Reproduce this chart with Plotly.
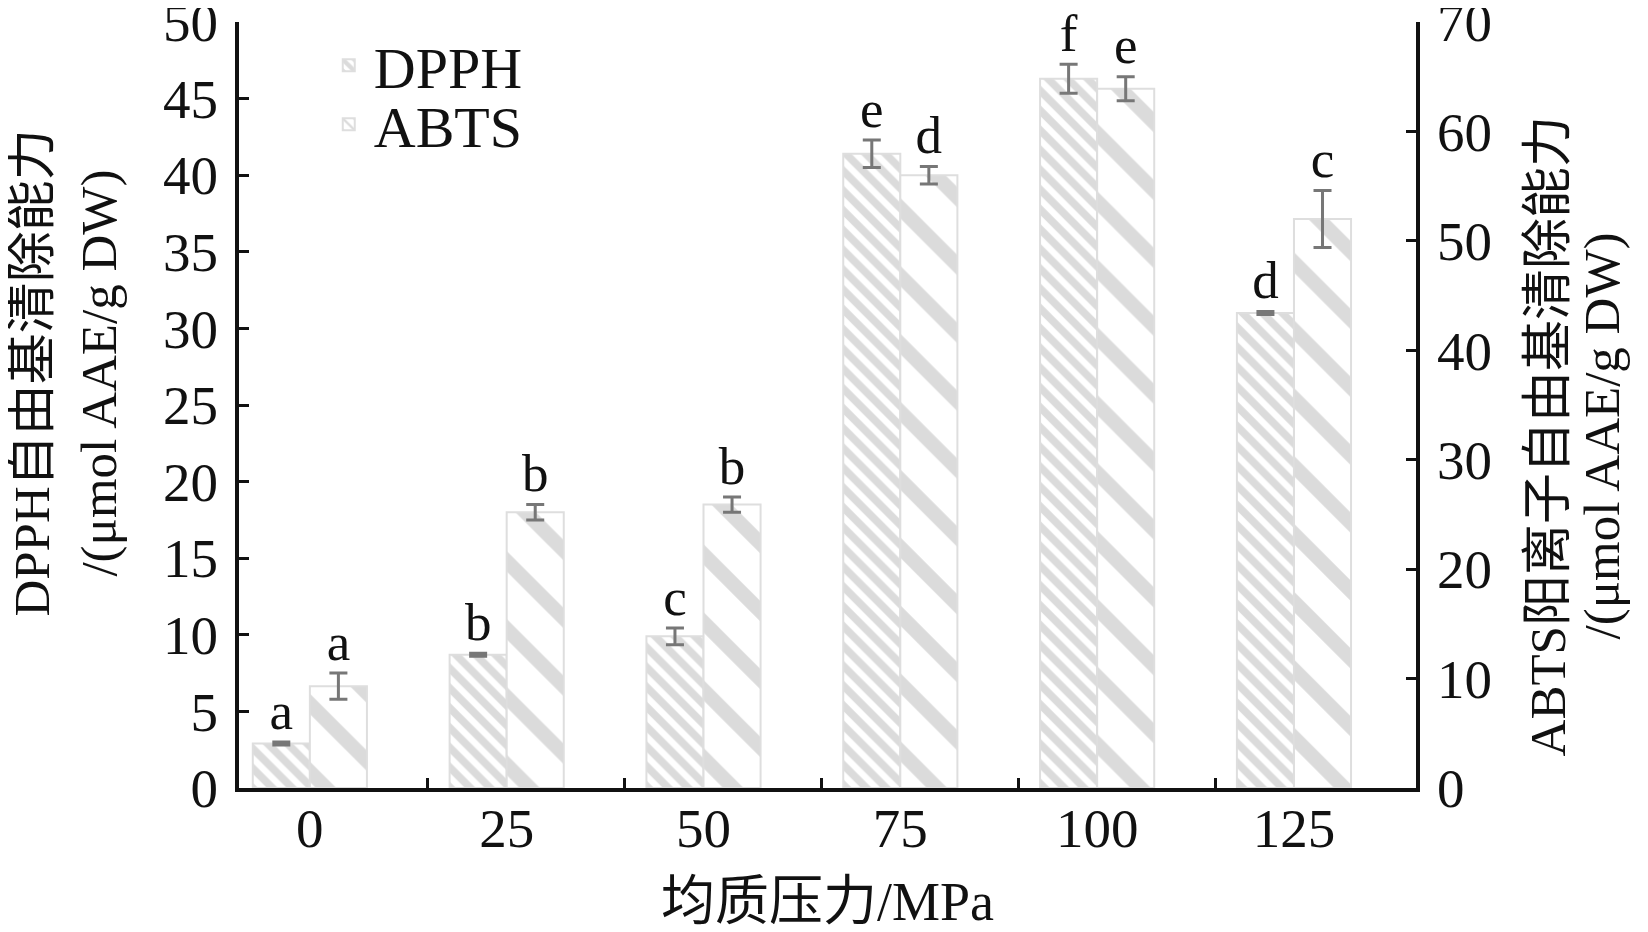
import plotly.graph_objects as go

# homogenization pressure (MPa)
pressure = ['0', '25', '50', '75', '100', '125']

# DPPH radical scavenging, left axis
dpph = [2.9, 8.7, 9.9, 41.4, 46.3, 31.0]
dpph_err = [0.1, 0.1, 0.55, 0.9, 0.95, 0.1]
dpph_sig = ['a', 'b', 'c', 'e', 'f', 'd']

# ABTS radical scavenging, right axis
abts = [9.3, 25.2, 25.9, 56.0, 63.9, 52.0]
abts_err = [1.2, 0.7, 0.7, 0.8, 1.1, 2.6]
abts_sig = ['a', 'b', 'b', 'd', 'e', 'c']

FONT = 'Liberation Serif, Times New Roman, Noto Sans CJK SC, serif'
bar_w = 0.29
xpos = list(range(len(pressure)))

fig = go.Figure()

fig.add_trace(go.Bar(
    x=xpos, y=dpph, name='DPPH', width=bar_w, offset=-bar_w,
    marker=dict(color='white', line=dict(color='#dedede', width=2),
                pattern=dict(shape='\\', size=14, solidity=0.55,
                             fgcolor='#b8b8b8', bgcolor='white')),
    error_y=dict(type='data', array=dpph_err, color='#777777',
                 thickness=3, width=9),
    yaxis='y', legend='legend'))

fig.add_trace(go.Bar(
    x=xpos, y=abts, name='ABTS', width=bar_w, offset=0,
    marker=dict(color='white', line=dict(color='#dedede', width=2),
                pattern=dict(shape='\\', size=48, solidity=0.3,
                             fgcolor='#b8b8b8', bgcolor='white')),
    error_y=dict(type='data', array=abts_err, color='#777777',
                 thickness=3, width=9),
    yaxis='y2', legend='legend2'))

# significance letters above the error bars
fig.add_trace(go.Scatter(
    x=[i - bar_w / 2 for i in xpos],
    y=[v + e for v, e in zip(dpph, dpph_err)],
    text=dpph_sig, mode='text', textposition='top center',
    textfont=dict(family=FONT, size=53, color='#111'),
    showlegend=False, cliponaxis=False, yaxis='y'))

fig.add_trace(go.Scatter(
    x=[i + bar_w / 2 for i in xpos],
    y=[v + e for v, e in zip(abts, abts_err)],
    text=abts_sig, mode='text', textposition='top center',
    textfont=dict(family=FONT, size=53, color='#111'),
    showlegend=False, cliponaxis=False, yaxis='y2'))

legend_style = dict(xanchor='left', yanchor='middle',
                    bgcolor='rgba(0,0,0,0)', font=dict(size=58),
                    itemwidth=40)

# axis titles as annotations (two lines each, tighter spacing than default)
title_font = dict(family=FONT, size=51, color='#111')
titles = [
    dict(text='DPPH自由基清除能力', x=0, xshift=-207, y=0.541),
    dict(text='/(μmol AAE/g DW)', x=0, xshift=-140, y=0.541),
    dict(text='ABTS阳离子自由基清除能力', x=1, xshift=132, y=0.459),
    dict(text='/(μmol AAE/g DW)', x=1, xshift=186, y=0.459),
]
annotations = [dict(xref='paper', yref='paper', textangle=-90,
                    showarrow=False, xanchor='center', yanchor='middle',
                    font=title_font, **t) for t in titles]

fig.update_layout(
    width=1648, height=932,
    margin=dict(l=231, r=240, t=14, b=152, autoexpand=False),
    paper_bgcolor='white', plot_bgcolor='white',
    font=dict(family=FONT, size=55, color='#111'),
    showlegend=True,
    legend=dict(x=0.072, y=0.943, **legend_style),
    legend2=dict(x=0.072, y=0.866, **legend_style),
    annotations=annotations,
    xaxis=dict(range=[-0.36, 5.62], tickvals=xpos, ticktext=pressure,
               ticks='', showgrid=False, zeroline=False, automargin=False,
               showline=True, linecolor='#111', linewidth=4,
               ticklabelstandoff=-11,
               minor=dict(tickvals=[i + 0.6 for i in xpos[:-1]],
                          ticks='inside', ticklen=10, tickwidth=3,
                          tickcolor='#111', showgrid=False),
               title=dict(text='均质压力/MPa', standoff=25,
                          font=dict(size=54))),
    yaxis=dict(range=[0, 50.001], dtick=5, ticks='inside', ticklen=10,
               tickwidth=3, tickcolor='#111', showgrid=False,
               zeroline=False, showline=True, linecolor='#111',
               linewidth=4, ticklabelstandoff=6, ticklabeloverflow='allow',
               automargin=False),
    yaxis2=dict(range=[0, 70.001], dtick=10, overlaying='y', side='right',
                ticks='inside', ticklen=10, tickwidth=3, tickcolor='#111',
                showgrid=False, zeroline=False, showline=True,
                linecolor='#111', linewidth=4, ticklabelstandoff=6,
                ticklabeloverflow='allow', automargin=False),
)

fig.write_html('out.html')
